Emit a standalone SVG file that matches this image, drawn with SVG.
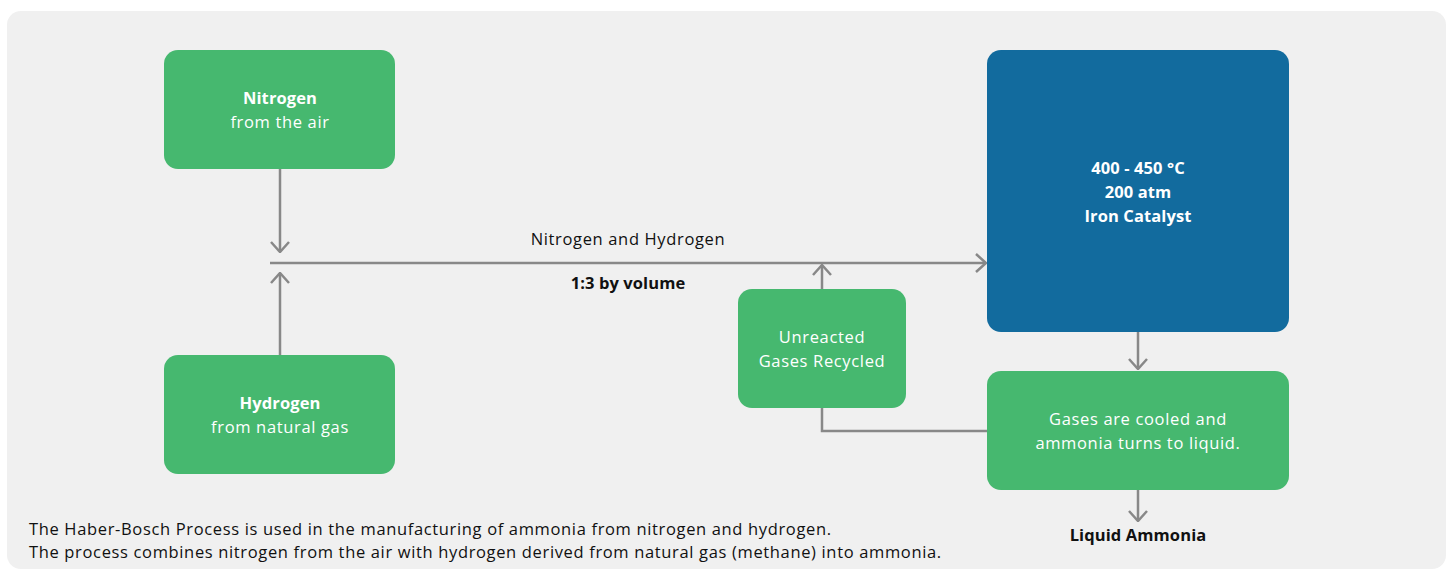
<svg xmlns="http://www.w3.org/2000/svg" width="1448" height="571" viewBox="0 0 1448 571">
<style>
text{font-family:"Open Sans","Liberation Sans",sans-serif;font-size:16.5px;letter-spacing:0.65px}
.w{fill:#ffffff;text-anchor:middle}
.b{font-weight:bold;letter-spacing:0.1px}
.k{fill:#111111}
.g{fill:#46B86F}
.bl{fill:#126B9E}
.c{fill:none;stroke:#888888;stroke-width:2.5}
</style>
<defs>
<marker id="ah" viewBox="0 0 12 20" refX="11" refY="10" markerWidth="12" markerHeight="20" markerUnits="userSpaceOnUse" orient="auto">
<path d="M1,1 L11,10 L1,19" fill="none" stroke="#888888" stroke-width="2.5"/>
</marker>
</defs>
<rect x="7" y="11" width="1439" height="558" rx="14" fill="#F0F0F0"/>
<g id="connectors">
<line class="c" x1="280" y1="169" x2="280" y2="252" marker-end="url(#ah)"/>
<line class="c" x1="280" y1="355" x2="280" y2="273" marker-end="url(#ah)"/>
<line class="c" x1="270" y1="263" x2="986" y2="263" marker-end="url(#ah)"/>
<line class="c" x1="822" y1="289" x2="822" y2="265" marker-end="url(#ah)"/>
<polyline class="c" points="822,408 822,431 988,431"/>
<line class="c" x1="1138" y1="332" x2="1138" y2="369" marker-end="url(#ah)"/>
<line class="c" x1="1138" y1="490" x2="1138" y2="521" marker-end="url(#ah)"/>
<text x="628" y="245" text-anchor="middle" class="k">Nitrogen and Hydrogen</text>
<text x="628" y="289" text-anchor="middle" class="k b">1:3 by volume</text>
</g>
<g id="nitrogen">
<rect class="g" x="164" y="50" width="231" height="119" rx="14"/>
<text class="w b" x="280" y="104">Nitrogen</text>
<text class="w" x="280" y="128">from the air</text>
</g>
<g id="hydrogen">
<rect class="g" x="164" y="355" width="231" height="119" rx="14"/>
<text class="w b" x="280" y="409">Hydrogen</text>
<text class="w" x="280" y="433">from natural gas</text>
</g>
<g id="reactor">
<rect class="bl" x="987" y="50" width="302" height="282" rx="14"/>
<text class="w b" x="1138" y="174">400 - 450 °C</text>
<text class="w b" x="1138" y="198">200 atm</text>
<text class="w b" x="1138" y="222">Iron Catalyst</text>
</g>
<g id="recycle">
<rect class="g" x="738" y="289" width="168" height="119" rx="14"/>
<text class="w" x="822" y="343">Unreacted</text>
<text class="w" x="822" y="367">Gases Recycled</text>
</g>
<g id="cooler">
<rect class="g" x="987" y="371" width="302" height="119" rx="14"/>
<text class="w" x="1138" y="425">Gases are cooled and</text>
<text class="w" x="1138" y="449">ammonia turns to liquid.</text>
</g>
<g id="ammonia">
<text class="k b" x="1138" y="541" text-anchor="middle">Liquid Ammonia</text>
</g>
<g id="caption">
<text class="k" x="29" y="535">The Haber-Bosch Process is used in the manufacturing of ammonia from nitrogen and hydrogen.</text>
<text class="k" x="29" y="558">The process combines nitrogen from the air with hydrogen derived from natural gas (methane) into ammonia.</text>
</g>
</svg>
